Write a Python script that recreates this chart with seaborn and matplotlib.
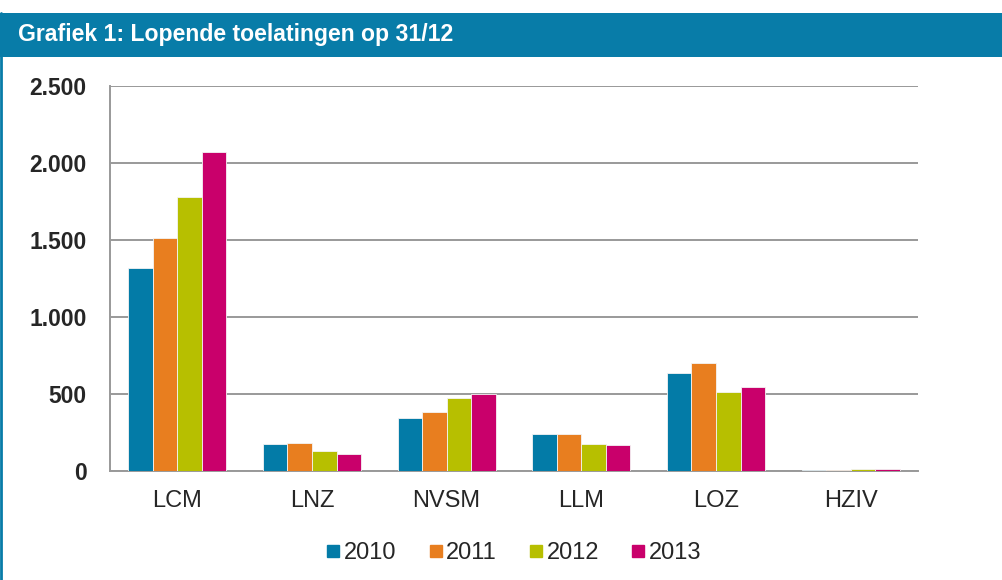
import pandas as pd
import numpy as np
import seaborn as sns
import matplotlib.pyplot as plt
from matplotlib.patches import Rectangle
from matplotlib.lines import Line2D
from matplotlib.ticker import FuncFormatter

# data
categories = ["LCM", "LNZ", "NVSM", "LLM", "LOZ", "HZIV"]
years = ["2010", "2011", "2012", "2013"]
v2010 = [1318, 176, 342, 238, 636, 6]
v2011 = [1512, 182, 383, 242, 703, 8]
v2012 = [1779, 128, 476, 173, 515, 14]
v2013 = [2073, 112, 502, 167, 545, 12]
colors = ["#037BA7", "#E87E1F", "#B7BF00", "#C9006B"]

rows = []
for year, vals in zip(years, [v2010, v2011, v2012, v2013]):
    for cat, v in zip(categories, vals):
        rows.append({"cat": cat, "year": year, "value": v})
df = pd.DataFrame(rows)

sns.set_style("white")
plt.rcParams["font.family"] = ["Liberation Sans", "DejaVu Sans"]

fig = plt.figure(figsize=(10.03, 5.80), dpi=100)
ax = fig.add_axes([110 / 1003, 1 - 471 / 580, 808 / 1003, 385 / 580])

sns.barplot(data=df, x="cat", y="value", hue="year", palette=colors,
            width=0.73, gap=0, saturation=1, errorbar=None, ax=ax,
            linewidth=0.6, edgecolor="#F4F4F4", zorder=5)

ax.set_ylim(0, 2500)
ax.set_xlim(-0.5, 5.5)
ax.set_yticks(np.arange(0, 2501, 500))
ax.yaxis.set_major_formatter(FuncFormatter(lambda v, p: f"{int(v):,}".replace(",", ".")))
ax.yaxis.grid(True, color="#999999", lw=1.4, zorder=0)
ax.set_axisbelow(True)
ax.set_xlabel("")
ax.set_ylabel("")

for s in ["top", "right"]:
    ax.spines[s].set_visible(False)
for s in ["left", "bottom"]:
    ax.spines[s].set_color("#999999")
    ax.spines[s].set_linewidth(1.4)
    ax.spines[s].set_zorder(4)

ax.tick_params(axis="y", which="major", direction="out", length=6, width=1.4,
               color="#999999", labelsize=16.5, pad=11)
for lbl in ax.get_yticklabels():
    lbl.set_fontweight("bold")
ax.tick_params(axis="x", which="major", length=0, labelsize=17, pad=14)
ax.set_xticks(np.arange(-0.5, 6, 1), minor=True)
ax.tick_params(axis="x", which="minor", direction="out", length=7, width=1.4,
               color="#999999")

ax.legend_.remove()
handles = [Line2D([0], [0], marker="s", linestyle="", markersize=8.5,
                  markerfacecolor=c, markeredgecolor=c) for c in colors]
fig.legend(handles, years, loc="center", bbox_to_anchor=(512 / 1003, 1 - 553 / 580),
           ncol=4, frameon=False, fontsize=17, handletextpad=0.0,
           columnspacing=1.2, handlelength=0.9)

# title bar and left border
fig.patches.append(Rectangle((0, 1 - 57 / 580), 1, 44 / 580, transform=fig.transFigure,
                             facecolor="#087CA8", edgecolor="none"))
fig.text(18 / 1003, 1 - 35 / 580, "Grafiek 1: Lopende toelatingen op 31/12",
         color="white", fontsize=16.6, fontweight="bold", va="center", ha="left")
fig.lines.append(Line2D([1 / 1003, 1 / 1003], [0, 1 - 13 / 580], transform=fig.transFigure,
                        color="#087CA8", lw=2))

fig.savefig("out.png", dpi=100)
